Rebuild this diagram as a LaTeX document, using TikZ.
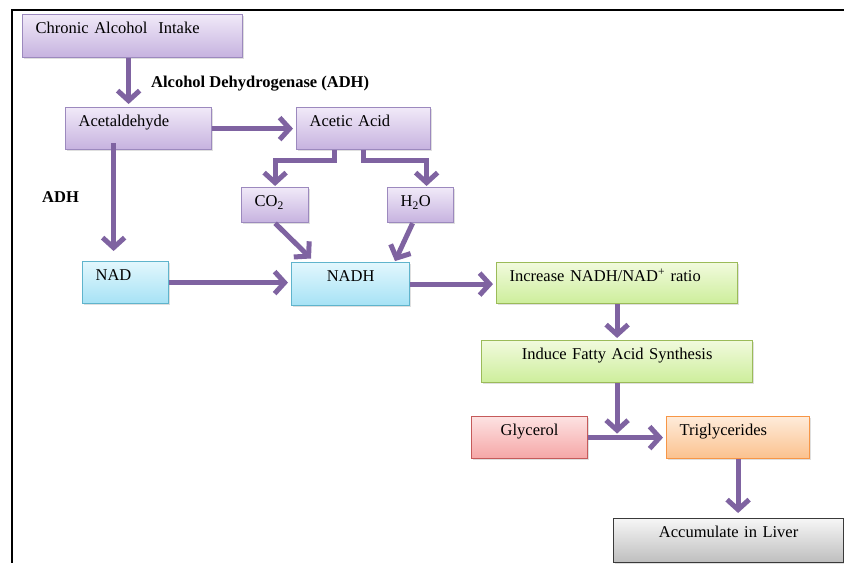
\documentclass[tikz,border=0pt]{standalone}
\usepackage{fontspec}
\setmainfont{Liberation Serif}
\usetikzlibrary{arrows.meta,shadows,calc}
\definecolor{arrowc}{HTML}{7F63A1}
\definecolor{purT}{HTML}{F0E9F8}
\definecolor{purB}{HTML}{C6B2DF}
\definecolor{purD}{HTML}{9C89BE}
\definecolor{bluT}{HTML}{E2F7FD}
\definecolor{bluB}{HTML}{A6E2F5}
\definecolor{bluD}{HTML}{5FB4CC}
\definecolor{grnT}{HTML}{F1FADD}
\definecolor{grnB}{HTML}{CDEE9B}
\definecolor{grnD}{HTML}{9BBB59}
\definecolor{redT}{HTML}{FDE2E2}
\definecolor{redB}{HTML}{F5A6A6}
\definecolor{redD}{HTML}{C55A5A}
\definecolor{orgT}{HTML}{FEEBDA}
\definecolor{orgB}{HTML}{FBC18E}
\definecolor{orgD}{HTML}{F79646}
\definecolor{gryT}{HTML}{F6F6F6}
\definecolor{gryB}{HTML}{BEBEBE}
\definecolor{gryD}{HTML}{3A3A3A}
\tikzset{
  bx/.style={rectangle, anchor=north west, inner xsep=13pt, inner ysep=0pt,
    text height=19pt, line width=1.2pt, align=left,
    font=\fontsize{16.5}{19}\selectfont,
    drop shadow={shadow xshift=1.5pt, shadow yshift=-1.5pt, opacity=0.25}},
  cbx/.style={bx, align=center},
  pur/.style={draw=purD, top color=purT, bottom color=purB},
  blu/.style={draw=bluD, top color=bluT, bottom color=bluB},
  grn/.style={draw=grnD, top color=grnT, bottom color=grnB},
  red/.style={draw=redD, top color=redT, bottom color=redB},
  org/.style={draw=orgD, top color=orgT, bottom color=orgB},
  gry/.style={draw=gryD, top color=gryT, bottom color=gryB},
  arr/.style={draw=arrowc, line width=5pt, -{Straight Barb[length=10pt, width=22pt]}},
  lbl/.style={anchor=base west, inner sep=0pt, font=\fontsize{16.5}{19}\selectfont\bfseries}
}
\begin{document}
\begin{tikzpicture}[x=1pt, y=-1pt]
\useasboundingbox (0,0) rectangle (844,563);
% frame
\draw[line width=2.5pt] (11,10) -- (844,10);
\draw[line width=2.5pt] (12,9) -- (12,563);

% nodes: bx text width = w-26, text depth = h-19
\node[bx, pur, text width=194pt, text depth=24pt] (chronic) at (22,14) {Chronic Alcohol\ \ Intake};
\node[bx, pur, text width=120pt, text depth=23pt] (acetald) at (65,107) {Acetaldehyde};
\node[bx, pur, text width=108pt, text depth=23pt] (acetic) at (296,107) {Acetic Acid};
\node[bx, pur, text width=41pt, text depth=16pt] (co2) at (241,187) {CO\textsubscript{2}};
\node[bx, pur, text width=40pt, text depth=16pt] (h2o) at (387,187) {H\textsubscript{2}O};
\node[bx, blu, text width=60pt, text depth=23pt] (nad) at (82,261) {NAD};
\node[cbx, blu, text width=92pt, text depth=24pt] (nadh) at (291,262) {NADH};
\node[bx, grn, text width=215pt, text depth=22pt] (incr) at (496,262) {Increase NADH/NAD\textsuperscript{+} ratio};
\node[cbx, grn, text width=245pt, text depth=23pt] (induce) at (481,340) {Induce Fatty Acid Synthesis};
\node[cbx, red, text width=90pt, text depth=23pt] (gly) at (471,416) {Glycerol};
\node[bx, org, text width=117pt, text depth=23pt] (trig) at (666,416) {Triglycerides};
\node[cbx, gry, text width=204pt, text depth=25pt] (liver) at (613,518) {Accumulate in Liver};

% labels
\node[lbl] (adhlong) at (151,87) {Alcohol Dehydrogenase (ADH)};
\node[lbl] (adh) at (42,202) {ADH};

% connectors
\draw[arr, shorten >=3pt] ([xshift=-4pt]chronic.south) -- ([xshift=-4pt]chronic.south |- acetald.north);
\draw[arr, shorten >=3pt] (acetald.east) -- (acetald.east -| acetic.west);
\draw[arr, shorten <=-7pt, shorten >=10pt] ([xshift=-25pt]acetald.south) -- ([xshift=-25pt]acetald.south |- nad.north);
\draw[arr, shorten >=1pt] ([xshift=-29pt]acetic.south) -- ++(0,10) -| (co2.north);
\draw[arr, shorten >=1pt] (acetic.south) -- ++(0,10) -| ([xshift=6pt]h2o.north);
\draw[arr, shorten >=5pt] (co2.south) -- ([xshift=-36pt]nadh.north);
\draw[arr, shorten >=1pt] ([xshift=-8pt]h2o.south) -- ([xshift=44pt]nadh.north);
\draw[arr, shorten >=3pt] (nad.east) -- (nad.east -| nadh.west);
\draw[arr, shorten >=3pt] (nadh.east) -- (nadh.east -| incr.west);
\draw[arr, shorten >=2pt] (incr.south) -- (incr.south |- induce.north);
\coordinate (junc) at (induce.south |- gly.east);
\draw[arr, shorten >=4pt] (induce.south) -- (junc);
\draw[arr, shorten >=3pt] (gly.east) -- (gly.east -| trig.west);
\draw[arr, shorten >=5pt] (trig.south) -- (trig.south |- liver.north);
\end{tikzpicture}
\end{document}
